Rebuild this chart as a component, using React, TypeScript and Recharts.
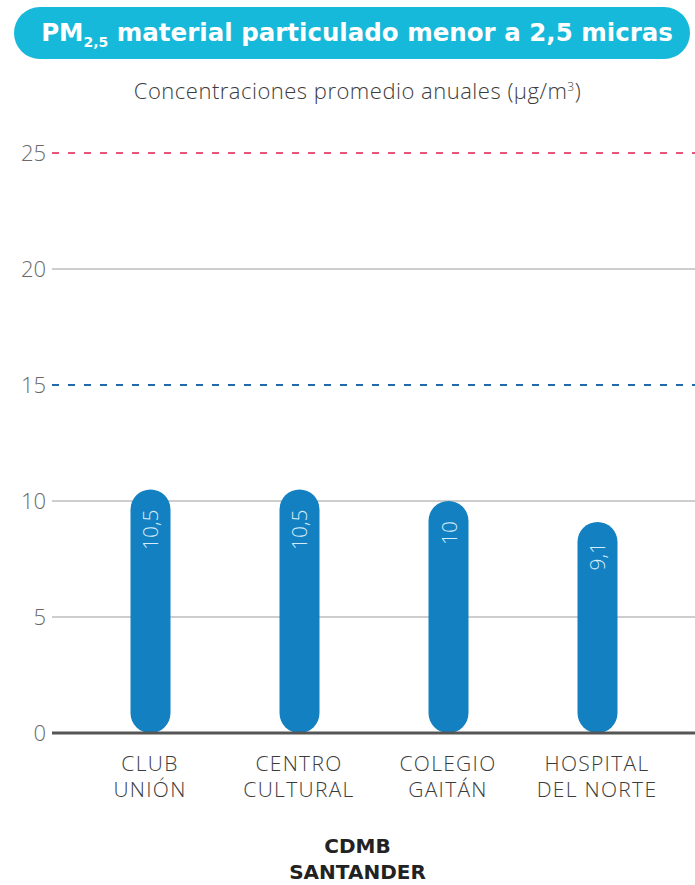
import { BarChart, Bar, XAxis, YAxis, CartesianGrid, ReferenceLine, LabelList } from 'recharts';

const stations = ['CLUB|UNIÓN', 'CENTRO|CULTURAL', 'COLEGIO|GAITÁN', 'HOSPITAL|DEL NORTE'];
const pm25 = [10.5, 10.5, 10, 9.1];
const yTicks = [0, 5, 10, 15, 20, 25];
const gridValues = [5, 10, 20];
const nationalLimit = 25;
const whoGuide = 15;

const data = stations.map((name, i) => ({ name, value: pm25[i] }));

const FONT = '"Open Sans", "DejaVu Sans", sans-serif';
const BOLD = '"DejaVu Sans", "Open Sans", sans-serif';

function StationTick(props: any) {
  const { x, y, payload } = props;
  const lines = String(payload.value).split('|');
  return (
    <text x={x} y={y} textAnchor="middle" fill="#3c3c3c" fontSize={21} fontFamily={FONT} fontWeight={300} letterSpacing={1.3}>
      {lines.map((l, i) => (
        <tspan key={i} x={x} dy={i === 0 ? 30 : 26}>{l}</tspan>
      ))}
    </text>
  );
}

function ValueLabel(props: any) {
  const { x, y, width, value } = props;
  const cx = x + width / 2;
  const ty = y + 20;
  return (
    <text
      x={cx}
      y={ty}
      transform={`rotate(-90, ${cx}, ${ty})`}
      textAnchor="end"
      dominantBaseline="central"
      fill="#d6ecf8"
      fontSize={21}
      fontFamily={FONT}
      fontWeight={300}
    >
      {String(value).replace('.', ',')}
    </text>
  );
}

export default function App() {
  return (
    <div style={{ position: 'absolute', left: 0, top: 0, width: 695, height: 885, background: '#fff', fontFamily: FONT }}>
      <div
        style={{
          position: 'absolute', left: 14, top: 7, width: 676, height: 52, borderRadius: 26,
          background: '#16b9d9', color: '#fff', fontWeight: 700, fontSize: 24.5, fontFamily: BOLD,
          display: 'flex', alignItems: 'center', justifyContent: 'center', whiteSpace: 'nowrap',
        }}
      >
        <span style={{ marginTop: 2, marginLeft: 10 }}>PM<sub style={{ fontSize: 14, verticalAlign: -6 }}>2,5</sub> material particulado menor a 2,5 micras</span>
      </div>
      <div style={{ position: 'absolute', left: 0, width: 715, top: 75, textAlign: 'center', fontSize: 22, fontWeight: 300, color: '#3c3c3c', letterSpacing: 0.5 }}>
        Concentraciones promedio anuales (µg/m<sup style={{ fontSize: 12 }}>3</sup>)
      </div>

      <BarChart width={695} height={885} data={data} margin={{ top: 153, right: 0, bottom: 122, left: 0 }}>
        <CartesianGrid vertical={false} horizontalValues={gridValues} stroke="#9c9c9c" strokeWidth={1} />
        <ReferenceLine y={whoGuide} stroke="#1f6aa8" strokeWidth={2} strokeDasharray="7 9" />
        <ReferenceLine y={nationalLimit} stroke="#e9537c" strokeWidth={2} strokeDasharray="7 9" />
        <YAxis
          width={52}
          domain={[0, 25]}
          ticks={yTicks}
          axisLine={false}
          tickLine={false}
          tickSize={0}
          tickMargin={6}
          tick={{ fontSize: 22, fill: '#6a6a6a', fontFamily: FONT, fontWeight: 300 }}
        />
        <XAxis
          dataKey="name"
          height={30}
          padding={{ left: 23.5, right: 23.5 }}
          axisLine={{ stroke: '#555', strokeWidth: 3 }}
          tickLine={false}
          tick={<StationTick />}
          interval={0}
        />
        <Bar dataKey="value" fill="#1380c1" barSize={40} radius={[20, 20, 20, 20]} isAnimationActive={false}>
          <LabelList dataKey="value" content={<ValueLabel />} />
        </Bar>
      </BarChart>

      <div style={{ position: 'absolute', left: 0, width: 715, top: 833, textAlign: 'center', fontSize: 20, fontWeight: 700, fontFamily: BOLD, color: '#222', lineHeight: '26px' }}>
        CDMB<br />SANTANDER
      </div>
    </div>
  );
}
